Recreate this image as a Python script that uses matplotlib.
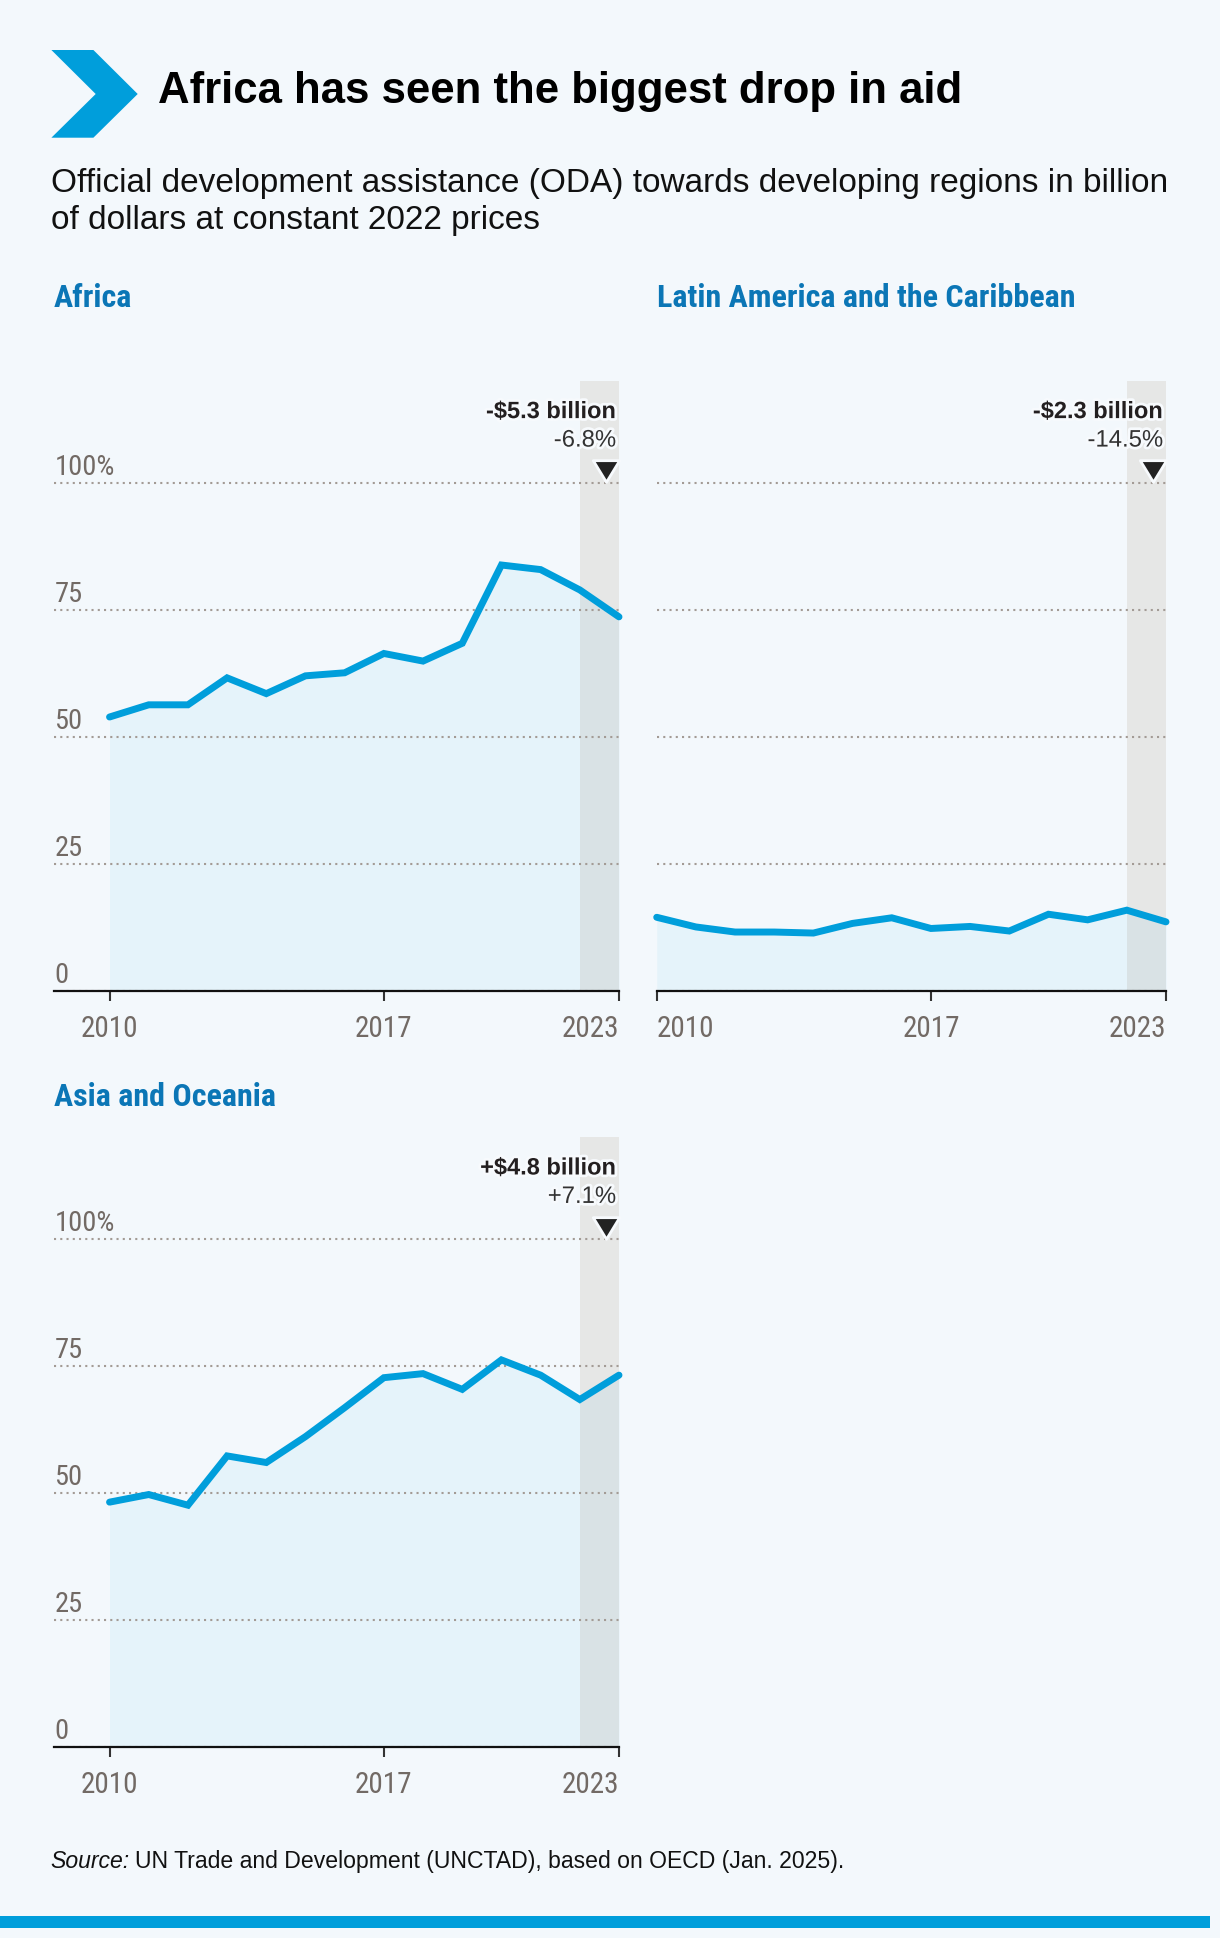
import matplotlib
matplotlib.use("Agg")
import matplotlib.pyplot as plt
from matplotlib import patheffects as pe, transforms as mtrans
from matplotlib import font_manager as fm
from matplotlib.patches import Polygon, Rectangle
from matplotlib.path import Path

# ---------------- data ----------------
years = list(range(2010, 2024))
africa = [53.9, 56.3, 56.3, 61.6, 58.5, 62.0, 62.6, 66.4, 64.9, 68.4, 83.8, 82.9, 78.9, 73.6]
latam = [14.5, 12.6, 11.6, 11.6, 11.4, 13.3, 14.4, 12.3, 12.7, 11.8, 15.1, 14.0, 15.9, 13.6]
asia = [48.2, 49.7, 47.6, 57.3, 56.0, 61.1, 66.8, 72.7, 73.5, 70.4, 76.2, 73.2, 68.4, 73.2]

panel_titles = ["Africa", "Latin America and the Caribbean", "Asia and Oceania"]
change_abs = ["-$5.3 billion", "-$2.3 billion", "+$4.8 billion"]
change_pct = ["-6.8%", "-14.5%", "+7.1%"]
xticks = [2010, 2017, 2023]
yticks = [0, 25, 50, 75, 100]
ytick_labels = ["0", "25", "50", "75", "100%"]
highlight = (2022, 2023)

title = "Africa has seen the biggest drop in aid"
subtitle1 = "Official development assistance (ODA) towards developing regions in billion"
subtitle2 = "of dollars at constant 2022 prices"
source_lead = "Source:"
source_text = "UN Trade and Development (UNCTAD), based on OECD (Jan. 2025)."

# ---------------- style ----------------
avail = {f.name for f in fm.fontManager.ttflist}
def pick(*names):
    for n in names:
        if n in avail:
            return n
    return "DejaVu Sans"

SANS = pick("Liberation Sans", "Arial", "DejaVu Sans")
NARROW = pick("Liberation Sans Narrow", "Roboto Condensed", "Liberation Sans")

BG = "#f3f8fc"
BLUE = "#009edb"
DARKBLUE = "#0b76b6"
GRAY = "#726a65"
GRID = "#a39b95"
BAND = "#e6e7e6"
HALO = "#f7fafd"

W, H = 1220, 1938
fig = plt.figure(figsize=(W / 100, H / 100), dpi=100, facecolor=BG)
renderer = fig.canvas.get_renderer()

def fx(x):
    return x / W

def fy(y):
    return 1 - y / H

# header chevron
chev = [(51.4, 50), (93.4, 50), (137.7, 94), (93.4, 137.7), (51.4, 137.7), (95.7, 94)]
fig.patches.append(Polygon([(fx(a), fy(b)) for a, b in chev], closed=True,
                           transform=fig.transFigure, color=BLUE, lw=0))

fig.text(fx(158), fy(103), title, fontsize=31.5, fontweight="bold", family=SANS,
         color="#000000", va="baseline", ha="left")
fig.text(fx(51), fy(192), subtitle1, fontsize=24, family=SANS, color="#111111",
         va="baseline", ha="left")
fig.text(fx(51), fy(229), subtitle2, fontsize=24, family=SANS, color="#111111",
         va="baseline", ha="left")

# bottom bar
fig.patches.append(Rectangle((0, fy(1928)), fx(1210), (1928 - 1916) / H,
                             transform=fig.transFigure, color=BLUE, lw=0))

# source
t1 = fig.text(fx(50), fy(1868), source_lead, fontsize=16.6, family=SANS, style="italic",
              color="#111111", va="baseline", ha="left")
bb = t1.get_window_extent(renderer)
fig.text((bb.x1 + 6) / W, fy(1868), source_text,
         fontsize=16.6, family=SANS, color="#111111", va="baseline", ha="left")

halo = [pe.withStroke(linewidth=4, foreground=HALO)]

tri_path = Path([(-1, 0.82), (1, 0.82), (0, -0.82), (-1, 0.82)],
                [Path.MOVETO, Path.LINETO, Path.LINETO, Path.CLOSEPOLY])


def panel(rect_px, values, ttl, ttl_y, ab, pc, show_y, xpad):
    left, right, top, bottom = rect_px
    ax = fig.add_axes([fx(left), fy(bottom), (right - left) / W, (bottom - top) / H])
    ax.set_facecolor("none")
    ax.set_xlim(years[0] - xpad, years[-1])
    ax.set_ylim(0, 120)

    ax.axvspan(highlight[0], highlight[1], color=BAND, lw=0, zorder=1)
    ax.fill_between(years, 0, values, color=BLUE, alpha=0.055, lw=0, zorder=2)
    ax.plot(years, values, color=BLUE, lw=5.0, solid_capstyle="round",
            solid_joinstyle="miter", zorder=4, clip_on=False)

    ax.set_yticks(yticks)
    ax.set_axisbelow(False)
    ax.grid(axis="y", color=GRID, lw=1.5, linestyle=(0, (1, 2)), zorder=3)
    ax.grid(axis="x", visible=False)
    ax.tick_params(axis="y", left=False, labelleft=False)
    for gl in ax.get_ygridlines():
        gl.set_zorder(3)

    for s in ["left", "right", "top"]:
        ax.spines[s].set_visible(False)
    ax.spines["bottom"].set_linewidth(1.6)
    ax.spines["bottom"].set_color("#111111")
    ax.spines["bottom"].set_zorder(5)

    ax.set_xticks(xticks)
    ax.set_xticklabels([str(t) for t in xticks], fontsize=21, family=NARROW, color=GRAY)
    ax.tick_params(axis="x", direction="out", length=7.2, width=1.5, color="#333333", pad=10)
    labels = ax.get_xticklabels()
    labels[-1].set_horizontalalignment("right")
    if xpad == 0:
        labels[0].set_horizontalalignment("left")

    if show_y:
        tr = mtrans.blended_transform_factory(ax.transAxes, ax.transData) + \
            mtrans.ScaledTranslation(1 / 100, 8 / 100, fig.dpi_scale_trans)
        for v, lab in zip(yticks, ytick_labels):
            ax.text(0, v, lab, transform=tr, fontsize=20.5, family=NARROW, color=GRAY,
                    ha="left", va="baseline")

    trr = mtrans.blended_transform_factory(ax.transAxes, ax.transData) + \
        mtrans.ScaledTranslation(-3 / 100, 0, fig.dpi_scale_trans)
    ax.text(1, 112.7, ab, transform=trr, fontsize=17, family=SANS, fontweight="bold",
            color="#231f20", ha="right", va="baseline", path_effects=halo, zorder=6)
    ax.text(1, 107.1, pc, transform=trr, fontsize=17.2, family=SANS,
            color="#333333", ha="right", va="baseline", path_effects=halo, zorder=6)
    trt = mtrans.blended_transform_factory(ax.transAxes, ax.transData) + \
        mtrans.ScaledTranslation(-13 / 100, 0, fig.dpi_scale_trans)
    ax.plot([1], [102.2], transform=trt, marker=tri_path, markersize=19, color="#222222",
            markeredgecolor=HALO, markeredgewidth=2.0, clip_on=False, zorder=6)

    fig.text(fx(left), fy(ttl_y), ttl, fontsize=23, family=NARROW,
             fontweight="bold", color=DARKBLUE, ha="left", va="baseline")
    return ax


XPAD = 1.43
panel((53.5, 619, 381, 991), africa, panel_titles[0], 307, change_abs[0], change_pct[0], True, XPAD)
panel((656.7, 1166, 381, 991), latam, panel_titles[1], 307, change_abs[1], change_pct[1], False, 0)
panel((53.5, 619, 1137.4, 1747), asia, panel_titles[2], 1106, change_abs[2], change_pct[2], True, XPAD)

fig.savefig("out.png", dpi=100, facecolor=BG)
